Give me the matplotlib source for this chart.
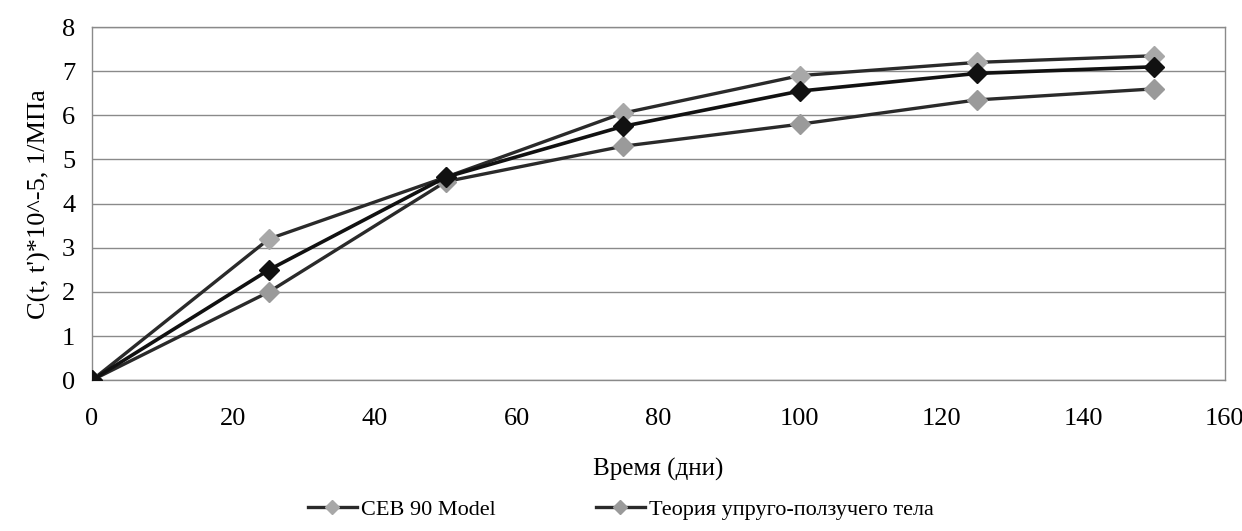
import matplotlib
matplotlib.use("Agg")
import matplotlib.pyplot as plt

plt.rcParams['font.family'] = ['Liberation Serif', 'DejaVu Serif']

days = [0, 25, 50, 75, 100, 125, 150]
ceb_upper = [0, 3.2, 4.6, 6.05, 6.9, 7.2, 7.35]
theory_mid = [0, 2.5, 4.6, 5.75, 6.55, 6.95, 7.1]
lower_curve = [0, 2.0, 4.5, 5.3, 5.8, 6.35, 6.6]

x_ticks = [0, 20, 40, 60, 80, 100, 120, 140, 160]
y_ticks = [0, 1, 2, 3, 4, 5, 6, 7, 8]


def main():
	fig = plt.figure(figsize=(12.42, 5.31), dpi=100)
	ax = fig.add_axes([0.074, 0.284, 0.912, 0.665])

	ax.plot(days, ceb_upper, color='#2a2a2a', lw=2.4, marker='D', ms=10,
		mfc='#a8a8a8', mec='#a8a8a8', label='CEB 90 Model', zorder=3)
	ax.plot(days, lower_curve, color='#2a2a2a', lw=2.4, marker='D', ms=10,
		mfc='#9a9a9a', mec='#9a9a9a', label='Теория упруго-ползучего тела', zorder=3)
	ax.plot(days, theory_mid, color='#111111', lw=2.6, marker='D', ms=10,
		mfc='#111111', mec='#111111', zorder=4)

	ax.set_xlim(0, 160)
	ax.set_ylim(0, 8)
	ax.set_xticks(x_ticks)
	ax.set_yticks(y_ticks)
	ax.tick_params(length=0, labelsize=19)
	ax.tick_params(axis='x', pad=20)
	ax.tick_params(axis='y', pad=12)
	ax.grid(axis='y', color='#8a8a8a', lw=1)
	ax.set_axisbelow(True)
	for sp in ax.spines.values():
		sp.set_color('#8a8a8a')
		sp.set_linewidth(1)

	ax.set_xlabel('Время (дни)', fontsize=18, labelpad=20)
	ax.set_ylabel("C(t, t')*10^-5, 1/МПа", fontsize=19, labelpad=8)

	fig.legend(loc='center', bbox_to_anchor=(0.5, 0.04), ncol=2, frameon=False,
		fontsize=16, handlelength=2.2, columnspacing=4.5, handletextpad=0.2,
		markerscale=0.7)

	fig.savefig('out.png', dpi=100)


if __name__ == '__main__':
	main()
